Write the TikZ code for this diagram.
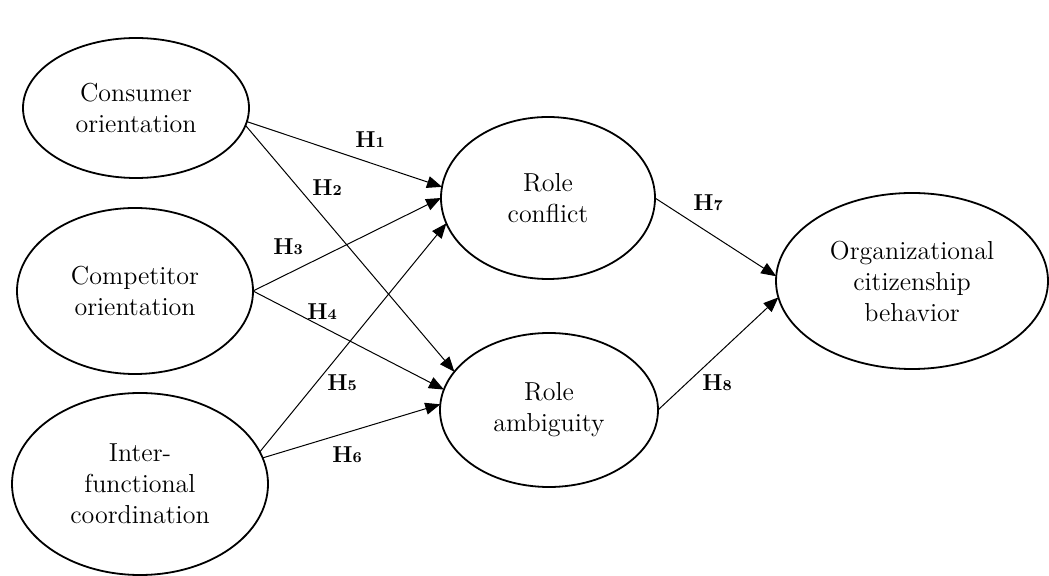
\documentclass[tikz,border=0pt]{standalone}
\usetikzlibrary{arrows.meta,shapes.geometric}
\tikzset{
  construct/.style={draw=black, ellipse, line width=0.9pt, inner sep=0pt, outer sep=0pt, align=center, font=\fontsize{13}{15.5}\selectfont},
  hyparrow/.style={-{Triangle[length=7.5pt,width=6pt]}, line width=0.5pt, draw=black},
  hyplabel/.style={font=\bfseries\fontsize{11.5}{11.5}\selectfont, inner sep=1pt}
}
\newcommand{\hlab}[1]{H{\fontsize{7.5}{7.5}\selectfont #1}}

\begin{document}
\begin{tikzpicture}[x=0.5pt,y=-0.5pt]
\useasboundingbox (0,0) rectangle (1049,576);
% constructs
\node[construct, minimum width=113pt, minimum height=70pt] (consumer) at (136,108) {Consumer\\orientation};
\node[construct, minimum width=118pt, minimum height=83pt] (competitor) at (135,291) {Competitor\\orientation};
\node[construct, minimum width=128pt, minimum height=91pt] (inter) at (140,484) {Inter-\\functional\\coordination};
\node[construct, minimum width=107pt, minimum height=81pt] (conflict) at (548,198) {Role\\conflict};
\node[construct, minimum width=109pt, minimum height=77pt] (ambiguity) at (549,410) {Role\\ambiguity};
\node[construct, minimum width=136pt, minimum height=88pt] (ocb) at (912,281) {Organizational\\citizenship\\behavior};
% hypotheses
\draw[hyparrow] (consumer.-7) -- (conflict.174);
\draw[hyparrow] (consumer.-9) -- (ambiguity.158);
\draw[hyparrow] (competitor.east) -- (conflict.west);
\draw[hyparrow] (competitor.east) -- (ambiguity.169);
\draw[hyparrow] (inter.15) -- (conflict.194);
\draw[hyparrow] (inter.12) -- (ambiguity.177);
\draw[hyparrow] (conflict.east) -- (ocb.178);
\draw[hyparrow] (ambiguity.east) -- (ocb.187);
\node[hyplabel] (h1) at (370,140) {\hlab{1}};
\node[hyplabel] (h2) at (327,188) {\hlab{2}};
\node[hyplabel] (h3) at (288,247) {\hlab{3}};
\node[hyplabel] (h4) at (322,312) {\hlab{4}};
\node[hyplabel] (h5) at (342,383) {\hlab{5}};
\node[hyplabel] (h6) at (347,455) {\hlab{6}};
\node[hyplabel] (h7) at (708,203) {\hlab{7}};
\node[hyplabel] (h8) at (717,383) {\hlab{8}};
\end{tikzpicture}
\end{document}
